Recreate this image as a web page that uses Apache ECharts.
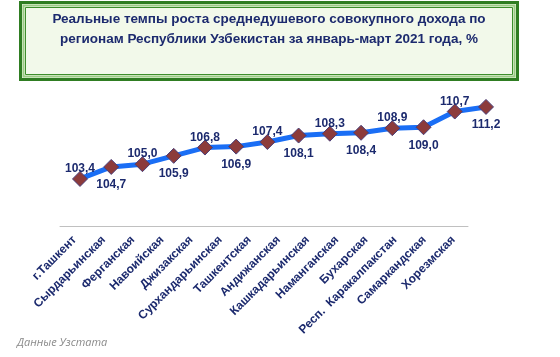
<!DOCTYPE html>
<html>
<head>
<meta charset="utf-8">
<script src="https://cdn.jsdelivr.net/npm/echarts@6/dist/echarts.min.js"></script>
<style>html,body{margin:0;padding:0;background:#fff}#c{width:560px;height:357px}</style>
</head>
<body>
<div id="c"></div>
<script>
const categories = ["г.Ташкент","Сырдарьинская","Ферганская","Навоийская","Джизакская","Сурхандарьинская","Ташкентская","Андижанская","Кашкадарьинская","Наманганская","Бухарская","Респ.  Каракалпакстан","Самаркандская","Хорезмская"];
const values = [103.4,104.7,105.0,105.9,106.8,106.9,107.4,108.1,108.3,108.4,108.9,109.0,110.7,111.2];
const labelSides = ["top","bottom","top","bottom","top","bottom","top","bottom","top","bottom","top","bottom","top","bottom"];
const titleLines = ["Реальные темпы роста среднедушевого совокупного дохода по","регионам Республики Узбекистан за январь-март 2021 года, %"];
const sourceText = "Данные Узстата";

const chart = echarts.init(document.getElementById('c'), null, {renderer:'canvas'});
const fmt = v => v.toFixed(1).replace('.', ',');
chart.setOption({
  backgroundColor:'#ffffff',
  animation:false,
  graphic:[
    {type:'rect', shape:{x:20.5,y:2.5,width:497,height:77}, style:{fill:'#f2f9ea', stroke:'#2f7d22', lineWidth:3}, z:1},
    {type:'rect', shape:{x:23.5,y:5.5,width:491,height:71}, style:{fill:'#f2f9ea', stroke:'#9ccc86', lineWidth:2}, z:2},
    {type:'rect', shape:{x:25.5,y:7.5,width:487,height:67}, style:{fill:'#f2f9ea', stroke:'#3d8f2c', lineWidth:1}, z:3},
    {type:'text', x:269, y:19, z:5, style:{text:titleLines[0], fill:'#1c2a6e', font:'bold 13.5px "Liberation Sans", Arial, sans-serif', textAlign:'center', textVerticalAlign:'middle'}},
    {type:'text', x:269, y:39, z:5, style:{text:titleLines[1], fill:'#1c2a6e', font:'bold 13.5px "Liberation Sans", Arial, sans-serif', textAlign:'center', textVerticalAlign:'middle'}},
    {type:'text', x:17, y:343, z:5, style:{text:sourceText, fill:'#8a8a8a', font:'italic 11px "Open Sans", "Liberation Sans", sans-serif', textAlign:'left', textVerticalAlign:'middle'}}
  ],
  grid:[
    {left:60, right:92, top:90.3, height:135.7},
    {left:80, right:74, top:90.3, height:138.5}
  ],
  xAxis:[
    {type:'category', gridIndex:0, data:categories, boundaryGap:true,
     axisLine:{show:true, lineStyle:{color:'#c0c0c0', width:1}},
     axisTick:{show:false}, splitLine:{show:false},
     axisLabel:{rotate:45, interval:0, margin:12, color:'#1c2a6e', fontWeight:'bold', fontSize:12, fontFamily:'"Liberation Sans", Arial, sans-serif'}},
    {type:'category', gridIndex:1, data:categories, boundaryGap:false, show:false}
  ],
  yAxis:[
    {type:'value', gridIndex:0, min:0, max:1, show:false},
    {type:'value', gridIndex:1, min:98, max:113, show:false}
  ],
  series:[{
    type:'line', xAxisIndex:1, yAxisIndex:1,
    data: values.map((v,i)=>({value:v, label:{position:labelSides[i], distance: labelSides[i]==='top'?-4:4}})),
    symbol:'diamond', symbolSize:15,
    lineStyle:{color:'#1a6ef5', width:5},
    itemStyle:{color:'#8c3b3b', borderColor:'#4a3f7a', borderWidth:1},
    label:{show:true, formatter:p=>fmt(p.value), color:'#1c2a6e', fontWeight:'bold', fontSize:12, fontFamily:'"Liberation Sans", Arial, sans-serif'}
  }]
});
</script>
</body>
</html>
